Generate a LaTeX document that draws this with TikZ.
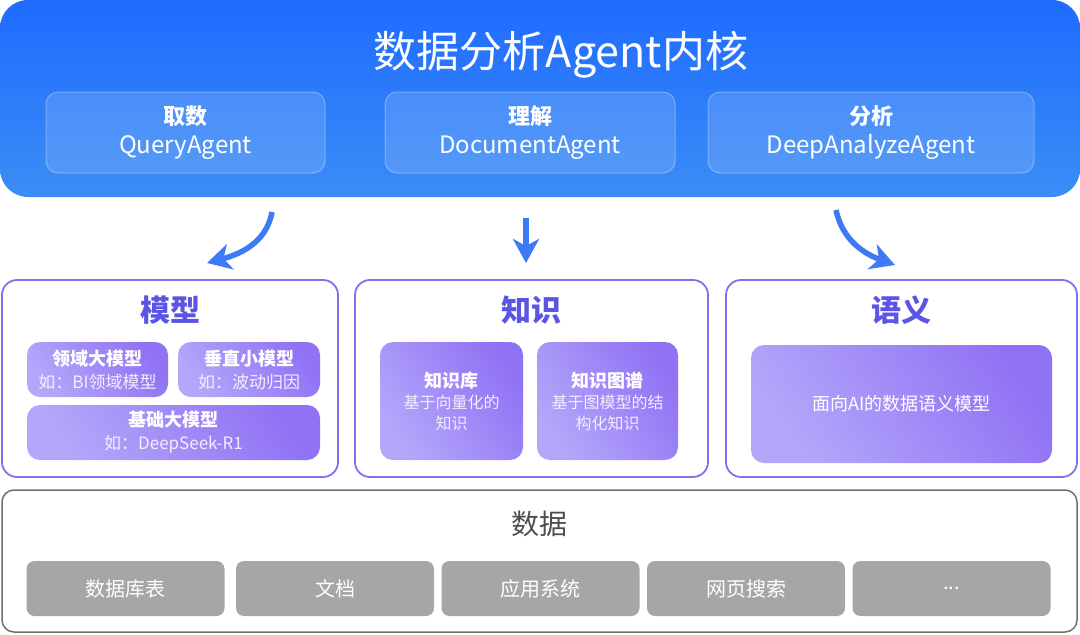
\documentclass[tikz,border=0pt]{standalone}
\usepackage{fontspec}
\setmainfont{Noto Sans CJK SC}
\usetikzlibrary{arrows.meta}

\definecolor{coreTop}{HTML}{1F6BFF}
\definecolor{coreBot}{HTML}{3B8DF6}
\definecolor{layerLine}{HTML}{7C72EE}
\definecolor{layerText}{HTML}{5A55E4}
\definecolor{subLight}{HTML}{B4A7FA}
\definecolor{subDark}{HTML}{9072F4}
\definecolor{flowBlue}{HTML}{3E7AF6}
\definecolor{srcGray}{HTML}{A6A6A6}
\definecolor{srcLine}{HTML}{6E6E6E}
\definecolor{srcText}{HTML}{4D4D4D}

\newcommand{\fs}[1]{\fontsize{#1}{#1}\selectfont}

\begin{document}
\begin{tikzpicture}[x=1pt,y=-1pt,
    core/.style={rounded corners=28pt,top color=coreTop,bottom color=coreBot,
      minimum width=1080pt,minimum height=197pt},
    agent/.style={draw=white,draw opacity=0.3,fill=white,fill opacity=0.14,
      text opacity=1,text=white,rounded corners=12pt,line width=1pt,
      minimum height=81pt,align=center,font=\fontsize{24}{29}\selectfont},
    layer/.style={draw=layerLine,line width=1.8pt,rounded corners=15pt,
      minimum height=197pt},
    layertitle/.style={text=layerText,font=\fs{30}\bfseries},
    sub/.style={rounded corners=13pt,left color=subLight,right color=subDark,
      shading angle=125,text=white,align=center},
    src/.style={rounded corners=8pt,fill=srcGray,text=white,
      minimum width=198pt,minimum height=55pt,font=\fs{20}},
    flow/.style={draw=flowBlue,line width=5.5pt,
      -{Stealth[length=24pt,width=26pt,inset=7pt]}}]
  \useasboundingbox (0,0) rectangle (1080,635);

  % core
  \node[core] (core) at (540,98.5) {};
  \node[text=white,font=\fs{43}] (title) at (561,55) {数据分析Agent内核};
  \node[agent,minimum width=279pt] (query) at (185.5,132.5) {{\fs{22}\bfseries 取数}\\QueryAgent};
  \node[agent,minimum width=290pt] (doc) at (530,132.5) {{\fs{22}\bfseries 理解}\\DocumentAgent};
  \node[agent,minimum width=326pt] (deep) at (871,132.5) {{\fs{22}\bfseries 分析}\\DeepAnalyzeAgent};

  % arrows
  \coordinate (l1) at (272,212);
  \coordinate (l2) at (207,263);
  \coordinate (m1) at (526,218);
  \coordinate (m2) at (526,263);
  \coordinate (r1) at (836,210);
  \coordinate (r2) at (895,265);
  \draw[flow] (l1) to[out=-100,in=15] (l2);
  \draw[flow] (m1) -- (m2);
  \draw[flow] (r1) to[out=-78,in=160] (r2);

  % layers
  \node[layer,minimum width=336pt] (model) at (170,378.5) {};
  \node[layer,minimum width=353pt] (know) at (531.5,378.5) {};
  \node[layer,minimum width=351pt] (sem) at (901.5,378.5) {};
  \node[layertitle] (modelT) at (170,310) {模型};
  \node[layertitle] (knowT) at (531.5,310) {知识};
  \node[layertitle] (semT) at (901.5,310) {语义};

  \node[sub,minimum width=141pt,minimum height=55pt,font=\fontsize{17}{23}\selectfont] (dom) at (97.5,369.5)
    {{\fs{18}\bfseries 领域大模型}\\{\color{white!88!subDark}如：BI领域模型}};
  \node[sub,minimum width=142pt,minimum height=55pt,font=\fontsize{17}{23}\selectfont] (vert) at (249,369.5)
    {{\fs{18}\bfseries 垂直小模型}\\{\color{white!88!subDark}如：波动归因}};
  \node[sub,minimum width=293pt,minimum height=55pt,font=\fontsize{17}{23}\selectfont] (base) at (173.5,432.5)
    {{\fs{18}\bfseries 基础大模型}\\{\color{white!88!subDark}如：DeepSeek-R1}};

  \node[sub,minimum width=143pt,minimum height=118pt,font=\fontsize{16}{21}\selectfont] (kb) at (451.5,401)
    {{\fs{18}\bfseries 知识库}\\{\color{white!88!subDark}基于向量化的}\\{\color{white!88!subDark}知识}};
  \node[sub,minimum width=141pt,minimum height=118pt,font=\fontsize{16}{21}\selectfont] (kg) at (607.5,401)
    {{\fs{18}\bfseries 知识图谱}\\{\color{white!88!subDark}基于图模型的结}\\{\color{white!88!subDark}构化知识}};

  \node[sub,minimum width=301pt,minimum height=118pt,font=\fs{18}] (semM) at (901.5,404) {面向AI的数据语义模型};

  % data
  \node[draw=srcLine,line width=1.5pt,rounded corners=12pt,
    minimum width=1075pt,minimum height=142pt] (data) at (539.5,561) {};
  \node[text=srcText,font=\fs{28}] (dataT) at (539.5,524) {数据};
  \node[src] (db) at (125.5,588.5) {数据库表};
  \node[src] (file) at (335,588.5) {文档};
  \node[src] (app) at (540.5,588.5) {应用系统};
  \node[src] (web) at (746,588.5) {网页搜索};
  \node[src] (more) at (951.5,588.5) {...};
\end{tikzpicture}
\end{document}
